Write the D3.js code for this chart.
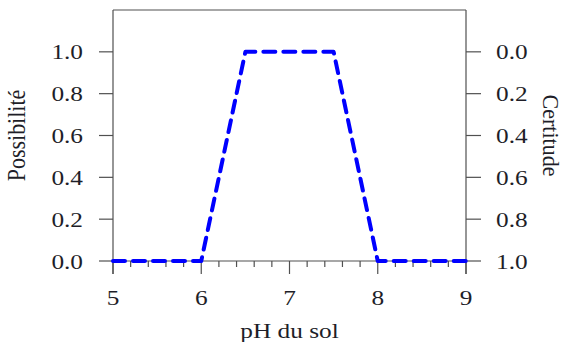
<!DOCTYPE html>
<html>
<head>
<meta charset="utf-8">
<script src="https://cdn.jsdelivr.net/npm/d3@7"></script>
<style>
  body { margin: 0; background: #fff; }
</style>
</head>
<body>
<div id="chart"></div>
<script>
// data
const phValues = [5, 6, 6.5, 7.5, 8, 9];
const possibilite = [0, 0, 1, 1, 0, 0];
const xTicks = [5, 6, 7, 8, 9];
const xMinorTicks = [5.2, 5.4, 5.6, 5.8, 6.2, 6.4, 6.6, 6.8, 7.2, 7.4, 7.6, 7.8, 8.2, 8.4, 8.6, 8.8];
const yTicks = [0, 0.2, 0.4, 0.6, 0.8, 1.0];
const certTicks = [0, 0.2, 0.4, 0.6, 0.8, 1.0];

const W = 566, H = 342;
const stretch = 'scale(1.15,1)';
const axisColor = '#505050';
const textColor = '#1e1e28';
const fontFam = '"Liberation Serif", "Times New Roman", serif';

const svg = d3.select('#chart').append('svg')
  .attr('width', W)
  .attr('height', H);

// scales
const x = d3.scaleLinear().domain([5, 9]).range([113, 466]);
const y = d3.scaleLinear().domain([0, 1.2]).range([261, 10]);
const y2 = d3.scaleLinear().domain([0, 1]).range([y(1), y(0)]);

const majorLen = 13, minorLen = 6, yTickLen = 14;

// frame : top, left, right, and x axis line at y = 0
const frame = svg.append('g')
  .attr('stroke', axisColor)
  .attr('stroke-width', 1.2)
  .attr('fill', 'none');
frame.append('line').attr('x1', x(5)).attr('x2', x(9)).attr('y1', y(1.2)).attr('y2', y(1.2));
frame.append('line').attr('x1', x(5)).attr('x2', x(5)).attr('y1', y(1.2)).attr('y2', y(0) + majorLen);
frame.append('line').attr('x1', x(9)).attr('x2', x(9)).attr('y1', y(1.2)).attr('y2', y(0) + majorLen);
frame.append('line').attr('x1', x(5)).attr('x2', x(9)).attr('y1', y(0)).attr('y2', y(0));

// x ticks
frame.selectAll('.xmaj').data(xTicks).enter().append('line')
  .attr('x1', d => x(d)).attr('x2', d => x(d))
  .attr('y1', y(0)).attr('y2', y(0) + majorLen);
frame.selectAll('.xmin').data(xMinorTicks).enter().append('line')
  .attr('x1', d => x(d)).attr('x2', d => x(d))
  .attr('y1', y(0)).attr('y2', y(0) + minorLen);

// y ticks (left & right)
frame.selectAll('.yl').data(yTicks).enter().append('line')
  .attr('x1', x(5) - yTickLen).attr('x2', x(5))
  .attr('y1', d => y(d)).attr('y2', d => y(d));
frame.selectAll('.yr').data(certTicks).enter().append('line')
  .attr('x1', x(9)).attr('x2', x(9) + yTickLen + 1)
  .attr('y1', d => y2(d)).attr('y2', d => y2(d));

// text helper
function addText(sel, txt, anchor, size) {
  return sel.append('text')
    .style('font-family', fontFam)
    .style('fill', textColor)
    .attr('text-anchor', anchor)
    .attr('font-size', size)
    .text(txt);
}

// tick labels
const fmt = d3.format('.1f');
function label(px, py, txt, anchor) {
  const g = svg.append('g').attr('transform', 'translate(' + px + ',' + py + ') ' + stretch);
  addText(g, txt, anchor, 22);
}
xTicks.forEach(d => label(x(d), 305, d, 'middle'));
yTicks.forEach(d => label(x(5) - 30, y(d) + 7.5, fmt(d), 'end'));
certTicks.forEach(d => label(x(9) + 30, y2(d) + 7.5, fmt(d), 'start'));

// axis titles
const midY = (y(0) + y(1.2)) / 2;
addText(svg.append('g').attr('transform', 'translate(' + (x(5) + x(9)) / 2 + ',338) ' + stretch),
  'pH du sol', 'middle', 22);
addText(svg.append('g').attr('transform', 'translate(25,' + midY + ') ' + stretch + ' rotate(-90)'),
  'Possibilité', 'middle', 22);
addText(svg.append('g').attr('transform', 'translate(543,' + midY + ') scale(1.05,1) rotate(90)'),
  'Certitude', 'middle', 22);

// possibility distribution
const line = d3.line()
  .x((d, i) => x(phValues[i]))
  .y(d => y(d));

svg.append('path')
  .datum(possibilite)
  .attr('d', line)
  .attr('fill', 'none')
  .attr('stroke', '#0000ff')
  .attr('stroke-width', 4)
  .attr('stroke-dasharray', '12 8')
  .attr('stroke-linecap', 'round')
  .attr('stroke-linejoin', 'round');
</script>
</body>
</html>
